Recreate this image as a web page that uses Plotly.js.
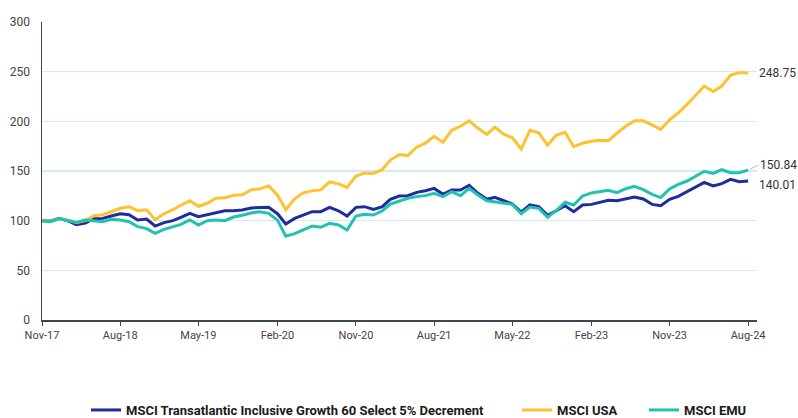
<!DOCTYPE html>
<html>
<head>
<meta charset="utf-8">
<script src="https://cdn.plot.ly/plotly-3.0.1.min.js"></script>
<style>html,body{margin:0;padding:0;background:#fff;}#chart{width:798px;height:418px;}</style>
</head>
<body>
<div id="chart"></div>
<script>
// Monthly observations, Nov-2017 .. Aug-2024
const startYear = 2017, startMonth = 11, nMonths = 82;
const tickLabels = ['Nov-17','Aug-18','May-19','Feb-20','Nov-20','Aug-21','May-22','Feb-23','Nov-23','Aug-24'];
const tickDates = ['2017-11-01','2018-08-01','2019-05-01','2020-02-01','2020-11-01','2021-08-01','2022-05-01','2023-02-01','2023-11-01','2024-08-01'];

const seriesNames = ['MSCI Transatlantic Inclusive Growth 60 Select 5% Decrement','MSCI USA','MSCI EMU'];

const transatlantic = [100,99.7,102.3,99.7,96,97.5,102,102.3,104.7,107,106,100.7,101.7,94.6,98,100,103.4,107.4,104,106,
108.4,110,110,110.7,112.8,113.4,113.4,107,96.6,102.3,105.7,109.1,109.1,113.4,110,104.7,113.4,114.1,111.4,114.1,
121.5,124.8,125.1,128.5,130.2,132.5,126.5,130.9,130.9,135.6,127.5,121.5,123.5,119.8,116.8,108.5,116,114.1,105.4,110,
115.1,109.1,115.8,116.4,118.1,120.5,120.1,122.2,123.8,121.8,116.4,115.1,121.5,124.5,129.2,133.6,138.6,134.9,137.2,141.6,
139.3,140.01];

const msciUSA = [100,99.5,102,100.5,98,100,105,106,109,112.5,114,110,111,101,107,111,115.5,120,114.5,117.5,
122.5,123,125.5,126,131,132,135,126,111,122,128,130,131,139,137,133.5,145,148,147.5,151.5,
161,166.5,165.5,174,178,185,179,191,195,200.5,193,187,194,187,183.5,172,191,188.5,176,186,
189,174.5,178,180,181,180.5,188,195,200.5,200.5,196.5,192,201.5,208.5,217,226.5,235.5,230,235.5,246.5,
249,248.75];

const msciEMU = [100,99,102,100,98.3,100.7,100,99,101.3,100.7,99,94,92,87.2,91.3,94.3,96.3,100.7,95.6,100,
100.7,100,103.7,105.4,107.7,109,107.4,100.5,84.3,87,90.6,94.6,93.3,97.3,95.6,90.6,104.7,106.4,105.7,110,
116.8,120.1,122.5,124.2,125.2,127.5,124.2,129.2,125.2,132.5,125.8,120.1,119.1,117.4,116.4,107,113.7,112.4,103.4,110,
118.5,115.8,124.8,127.9,129.2,130.5,128.2,132.2,134.6,131.2,126.5,123.2,131.9,136.6,139.9,144.6,149.7,147.6,151.3,148.3,
148.3,150.84];

const colors = ['#1f2d9c','#fec12f','#1fc3af'];

const dates = [];
for (let k = 0; k < nMonths; k++) {
  const m0 = startMonth - 1 + k;
  const y = startYear + Math.floor(m0 / 12);
  const m = (m0 % 12) + 1;
  dates.push(y + '-' + String(m).padStart(2,'0') + '-01');
}

const legendIds = ['legend','legend2','legend3'];
const allSeries = [transatlantic, msciUSA, msciEMU];
const traces = allSeries.map((vals, j) => ({
  x: dates, y: vals, type: 'scatter', mode: 'lines', name: seriesNames[j],
  legend: legendIds[j],
  line: {color: colors[j], width: 3}, hoverinfo: 'skip'
}));

const last = dates[dates.length - 1];
const annFont = {family: 'Roboto, sans-serif', size: 12, color: '#333'};
const annotations = [
  {x: last, y: msciUSA[msciUSA.length-1], text: msciUSA[msciUSA.length-1].toFixed(2), showarrow: false, xanchor: 'left', xshift: 9, font: annFont},
  {x: last, y: msciEMU[msciEMU.length-1], text: msciEMU[msciEMU.length-1].toFixed(2), showarrow: true, arrowhead: 0, arrowwidth: 1.2, arrowcolor: '#9fd3f5', ax: 10, ay: -5, standoff: 2, xanchor: 'left', font: annFont},
  {x: last, y: transatlantic[transatlantic.length-1], text: transatlantic[transatlantic.length-1].toFixed(2), showarrow: false, xanchor: 'left', xshift: 9, yshift: -4, font: annFont}
];

const legFont = {family: 'Roboto, sans-serif', size: 13, color: '#1a1a1a', weight: 'bold'};
function leg(xpx) {
  return {orientation: 'h', xref: 'container', yref: 'container', x: xpx / 798, xanchor: 'left',
    y: 8 / 418, yanchor: 'middle', font: legFont, itemwidth: 30, bgcolor: 'rgba(0,0,0,0)', borderwidth: 0};
}

const layout = {
  width: 798, height: 418,
  margin: {l: 42, r: 41, t: 22, b: 98, autoexpand: false},
  paper_bgcolor: '#fff', plot_bgcolor: '#fff',
  showlegend: true,
  legend: leg(86),
  legend2: leg(517),
  legend3: leg(644),
  xaxis: {
    type: 'date', range: ['2017-11-01', '2024-09-01'],
    tickvals: tickDates, ticktext: tickLabels, tickmode: 'array',
    showgrid: false, zeroline: false,
    showline: true, linecolor: '#3d4650', linewidth: 1.5,
    ticks: 'outside', ticklen: 4, tickcolor: '#3d4650', tickwidth: 1,
    tickfont: {family: 'Roboto, sans-serif', size: 11, color: '#444'}
  },
  yaxis: {
    range: [0, 300], tickvals: [0,50,100,150,200,250,300],
    showgrid: true, gridcolor: '#d3eafa', gridwidth: 1.5, zeroline: false,
    showline: true, linecolor: '#3d4650', linewidth: 1.5,
    ticks: '', ticklabelstandoff: 8,
    tickfont: {family: 'Roboto, sans-serif', size: 12, color: '#444'}
  },
  annotations: annotations
};

Plotly.newPlot('chart', traces, layout, {displayModeBar: false, staticPlot: true});
</script>
</body>
</html>
